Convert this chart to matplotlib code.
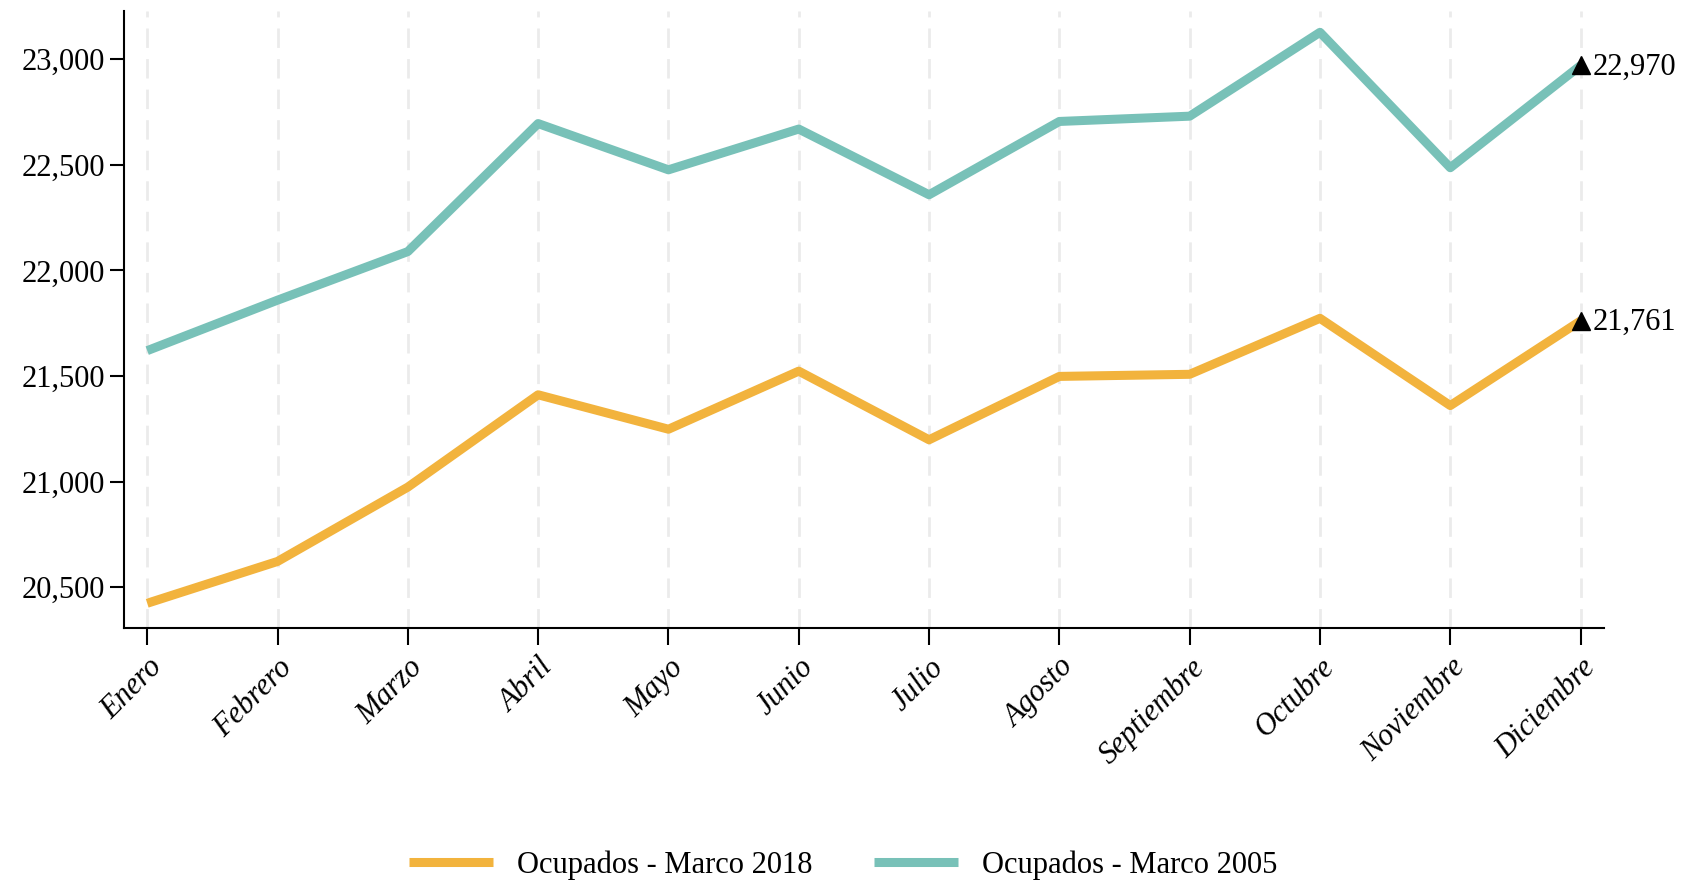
import matplotlib.pyplot as plt
from matplotlib.ticker import FuncFormatter

# Data
months = ["Enero", "Febrero", "Marzo", "Abril", "Mayo", "Junio", "Julio",
          "Agosto", "Septiembre", "Octubre", "Noviembre", "Diciembre"]
marco_2018 = [20424, 20622, 20974, 21411, 21248, 21523, 21198,
              21498, 21508, 21773, 21360, 21761]
marco_2005 = [21620, 21859, 22089, 22695, 22476, 22669, 22358,
              22705, 22730, 23127, 22486, 22970]
y_ticks = [20500, 21000, 21500, 22000, 22500, 23000]

orange = "#F2B33D"
teal = "#78C1B8"

plt.rcParams["font.family"] = ["Liberation Serif", "DejaVu Serif"]

fig = plt.figure(figsize=(16.86, 8.83), dpi=100)
ax = fig.add_axes([0.0734, 0.2888, 0.878, 0.699])

x = list(range(len(months)))
for xi in x:
    ax.axvline(xi, color="#ebebeb", lw=2, dashes=(7, 4), zorder=0)

ax.plot(x, marco_2018, color=orange, lw=6.5, label="Ocupados - Marco 2018",
        solid_capstyle="butt", zorder=3)
ax.plot(x, marco_2005, color=teal, lw=6.5, label="Ocupados - Marco 2005",
        solid_capstyle="butt", zorder=3)

# last-value markers and labels
for series in (marco_2018, marco_2005):
    ax.plot(x[-1], series[-1], marker="^", color="black", ms=13, zorder=4)
    ax.annotate(f"{series[-1]:,}", (x[-1], series[-1]), xytext=(9, -1),
                textcoords="offset points", va="center", ha="left", fontsize=22)

ax.set_xlim(-0.18, 11.18)
ax.set_ylim(20307, 23229)
ax.set_yticks(y_ticks)
ax.yaxis.set_major_formatter(FuncFormatter(lambda v, p: f"{int(v):,}"))
ax.set_xticks(x)
ax.set_xticklabels(months, rotation=45, ha="right", rotation_mode="anchor",
                   fontstyle="italic", fontsize=22)
ax.tick_params(axis="y", labelsize=22, length=10, width=1.5)
ax.tick_params(axis="x", length=12, width=1.5, pad=6)

for side in ("top", "right"):
    ax.spines[side].set_visible(False)
for side in ("left", "bottom"):
    ax.spines[side].set_linewidth(1.5)

fig.legend(loc="center", bbox_to_anchor=(0.5, 0.02), ncol=2, frameon=False,
           fontsize=22, handlelength=2.75, columnspacing=2.0, handletextpad=0.8)

fig.savefig("out.png", dpi=100)
